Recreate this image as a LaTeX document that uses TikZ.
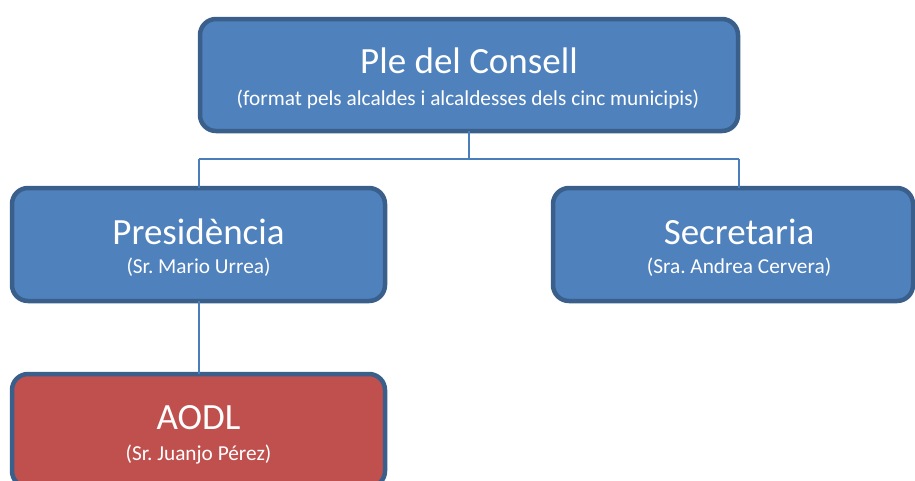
\documentclass[tikz,border=0pt]{standalone}
\usepackage{fontspec}
\setmainfont{Carlito}
\definecolor{boxblue}{HTML}{4F81BD}
\definecolor{boxred}{HTML}{C0504D}
\definecolor{edgeblue}{HTML}{3A5F8B}
\definecolor{linkblue}{HTML}{4A7EBB}
\tikzset{
  orgbox/.style={draw=edgeblue, line width=4.5pt, rounded corners=16pt, fill=boxblue, inner sep=0pt, outer sep=0pt},
  redbox/.style={orgbox, fill=boxred},
  titletext/.style={text=white, anchor=base, inner sep=0pt, font=\fontsize{37}{40}\selectfont},
  subtext/.style={text=white, anchor=base, inner sep=0pt, font=\fontsize{21.3}{24}\selectfont},
  link/.style={draw=linkblue, line width=2pt}
}
\frenchspacing
\begin{document}
\begin{tikzpicture}[x=1pt,y=-1pt]
\useasboundingbox (0,0) rectangle (915,480);
\begin{scope}
\clip (0,0) rectangle (915,480);
% connectors
\coordinate (jt) at (469,159);
\coordinate (jl) at (199,159);
\coordinate (jr) at (739,159);
\node[orgbox, minimum width=538pt, minimum height=112pt] (ple) at (469,75) {};
\node[orgbox, minimum width=373pt, minimum height=113pt] (pres) at (198.5,244.5) {};
\node[orgbox, minimum width=360pt, minimum height=113pt] (secr) at (733,244.5) {};
\node[redbox, minimum width=373pt, minimum height=113pt] (aodl) at (198.5,430.5) {};
\draw[link] (ple.south) -- (jt) (jl) -- (jr) (jl) -- (jl |- pres.north) (jr) -- (jr |- secr.north);
\draw[link] (pres.south) -- (aodl.north);
% texts
\node[titletext] (t1) at (469,73) {Ple del Consell};
\node[subtext] (s1) at (468,105) {(format pels alcaldes i alcaldesses dels cinc municipis)};
\node[titletext] (t2) at (198.5,244) {Presidència};
\node[subtext] (s2) at (198.5,273) {(Sr. Mario Urrea)};
\node[titletext] (t3) at (739,244) {Secretaria};
\node[subtext] (s3) at (739,273) {(Sra. Andrea Cervera)};
\node[titletext] (t4) at (198.5,429) {AODL};
\node[subtext] (s4) at (198.5,460) {(Sr. Juanjo Pérez)};
\end{scope}
\end{tikzpicture}
\end{document}
